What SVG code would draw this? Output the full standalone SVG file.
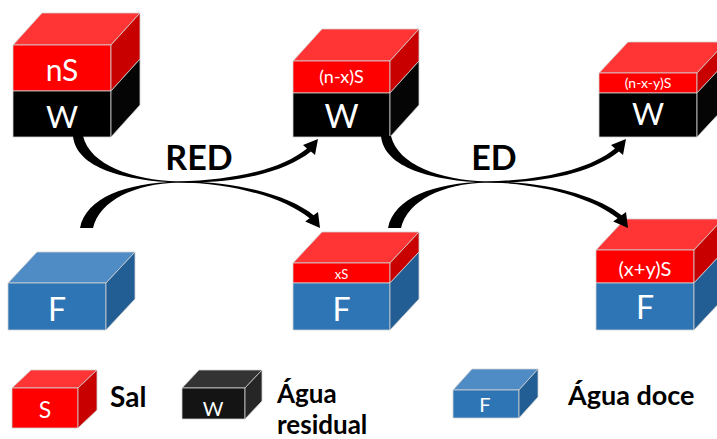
<svg xmlns="http://www.w3.org/2000/svg" width="717" height="439" viewBox="0 0 717 439">
<style>
.rf{fill:#ff0000}
.rt{fill:#ff3535}
.rs{fill:#c80000}
.kf{fill:#000000}
.ks{fill:#050505}
.bf{fill:#2e75b6}
.bt{fill:#4f8cc6}
.bs{fill:#225d94}
.lkf{fill:#141414}
.lkt{fill:#333333}
.lks{fill:#262626}
.e{stroke:#d0d0d0;stroke-width:0.8;stroke-linejoin:round}
.w{fill:#ffffff;font-family:Lato,"Liberation Sans",sans-serif;text-anchor:middle}
.lab{fill:#000000;font-family:Lato,"Liberation Sans",sans-serif;font-weight:bold}
.arr{fill:#000000}
</style>
<rect width="717" height="439" fill="#ffffff"/>

<g id="box-nS-W">
<polygon class="rt e" points="13,45 42,13 140,13 111,45"/>
<rect class="rf e" x="13" y="45" width="98" height="46"/>
<rect class="kf e" x="13" y="91" width="98" height="46"/>
<polygon class="rs e" points="111,45 140,13 140,59 111,91"/>
<polygon class="ks e" points="111,91 140,59 140,105 111,137"/>
<text class="w" x="62" y="81" font-size="30">nS</text>
<text class="w" x="62" y="128" font-size="31">W</text>
</g>

<g id="box-nxS-W">
<polygon class="rt e" points="293,61 322,29 419,29 390,61"/>
<rect class="rf e" x="293" y="61" width="97" height="32"/>
<rect class="kf e" x="293" y="93" width="97" height="44"/>
<polygon class="rs e" points="390,61 419,29 419,61 390,93"/>
<polygon class="ks e" points="390,93 419,61 419,105 390,137"/>
<text class="w" x="341.5" y="83" font-size="18">(n-x)S</text>
<text class="w" x="341.5" y="128" font-size="33">W</text>
</g>

<g id="box-nxyS-W">
<polygon class="rt e" points="599,73 628,42 726,42 697,73"/>
<rect class="rf e" x="599" y="73" width="98" height="20"/>
<rect class="kf e" x="599" y="93" width="98" height="44"/>
<polygon class="rs e" points="697,73 726,42 726,62 697,93"/>
<polygon class="ks e" points="697,93 726,62 726,106 697,137"/>
<text class="w" x="648" y="88" font-size="14">(n-x-y)S</text>
<text class="w" x="648" y="125" font-size="31">W</text>
</g>

<g id="box-F">
<polygon class="bt e" points="8,283 37,252 135,252 106,283"/>
<rect class="bf e" x="8" y="283" width="98" height="47"/>
<polygon class="bs e" points="106,283 135,252 135,299 106,330"/>
<text class="w" x="57" y="321" font-size="32">F</text>
</g>

<g id="box-xS-F">
<polygon class="rt e" points="293,263 322,232 419,232 390,263"/>
<rect class="rf e" x="293" y="263" width="97" height="20"/>
<rect class="bf e" x="293" y="283" width="97" height="47"/>
<polygon class="rs e" points="390,263 419,232 419,252 390,283"/>
<polygon class="bs e" points="390,283 419,252 419,299 390,330"/>
<text class="w" x="341.5" y="279" font-size="13">xS</text>
<text class="w" x="341.5" y="321" font-size="32">F</text>
</g>

<g id="box-xyS-F">
<polygon class="rt e" points="596,250 625,219 723,219 694,250"/>
<rect class="rf e" x="596" y="250" width="98" height="33"/>
<rect class="bf e" x="596" y="283" width="98" height="47"/>
<polygon class="rs e" points="694,250 723,219 723,252 694,283"/>
<polygon class="bs e" points="694,283 723,252 723,299 694,330"/>
<text class="w" x="645" y="276" font-size="20">(x+y)S</text>
<text class="w" x="645" y="319" font-size="32">F</text>
</g>

<g id="connectors">
<g id="red-arrows">
<path class="arr" d="M 73 136 C 76 168, 125 181, 178 182.5 C 238 184, 285 172, 311 151.6 L 315 155 L 318 139 L 303 145 L 307 148.4 C 282 169, 236 180, 178 181.5 C 132 180, 90 165, 83 136 Z"/>
<path class="arr" d="M 80 228 C 86 198, 125 183, 178 181.5 C 238 181, 290 196, 313.6 215.3 L 318 212 L 320 228 L 305.2 221.6 L 309.6 218.3 C 286 199, 236 183, 178 182.5 C 135 184, 100 200, 93 228 Z"/>
</g>
<g id="ed-arrows" transform="translate(308,0)">
<path class="arr" d="M 73 136 C 76 168, 125 181, 178 182.5 C 238 184, 285 172, 311 151.6 L 315 155 L 318 139 L 303 145 L 307 148.4 C 282 169, 236 180, 178 181.5 C 132 180, 90 165, 83 136 Z"/>
<path class="arr" d="M 80 228 C 86 198, 125 183, 178 181.5 C 238 181, 290 196, 313.6 215.3 L 318 212 L 320 228 L 305.2 221.6 L 309.6 218.3 C 286 199, 236 183, 178 182.5 C 135 184, 100 200, 93 228 Z"/>
</g>
<text class="lab" x="199" y="170" font-size="34" text-anchor="middle">RED</text>
<text class="lab" x="494" y="170" font-size="34" text-anchor="middle">ED</text>
</g>

<g id="legend-S">
<polygon class="rt e" points="12,388 31,370 97,370 78,388"/>
<rect class="rf e" x="12" y="388" width="66" height="40"/>
<polygon class="rs e" points="78,388 97,370 97,410 78,428"/>
<text class="w" x="45" y="418" font-size="23">S</text>
<text class="lab" x="110" y="407" font-size="28">Sal</text>
</g>

<g id="legend-W">
<polygon class="lkt e" points="182,388 199,370 262,370 245,388"/>
<rect class="lkf e" x="182" y="388" width="63" height="31"/>
<polygon class="lks e" points="245,388 262,370 262,401 245,419"/>
<text class="w" x="213" y="416" font-size="20">W</text>
<text class="lab" x="277" y="402.5" font-size="26">Água</text>
<text class="lab" x="277" y="434" font-size="26">residual</text>
</g>

<g id="legend-F">
<polygon class="bt e" points="453,390 472,369 538,369 519,390"/>
<rect class="bf e" x="453" y="390" width="66" height="28"/>
<polygon class="bs e" points="519,390 538,369 538,397 519,418"/>
<text class="w" x="485" y="412" font-size="20">F</text>
<text class="lab" x="568" y="405" font-size="27">Água doce</text>
</g>
</svg>
